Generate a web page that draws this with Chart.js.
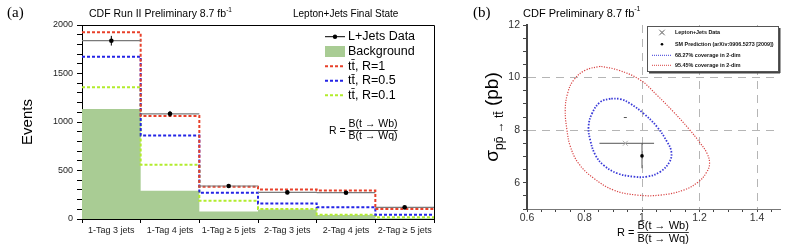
<!DOCTYPE html>
<html>
<head>
<meta charset="utf-8">
<script src="https://cdn.jsdelivr.net/npm/chart.js@4.4.0/dist/chart.umd.min.js"></script>
<style>
  html, body { margin: 0; padding: 0; background: #fff; }
  #wrap { position: relative; width: 810px; height: 251px; overflow: hidden; }
  canvas { position: absolute; top: 0; }
  #ca { left: 0; }
  #cb { left: 470px; }
</style>
</head>
<body>
<div id="wrap">
  <canvas id="ca" width="470" height="251"></canvas>
  <canvas id="cb" width="340" height="251"></canvas>
</div>
<script>
const FONT = "'Liberation Sans', Arial, Helvetica, sans-serif";
const SERIF = "'Liberation Serif', 'Times New Roman', serif";

// ---- panel (a): events per jet / tag category
const categories = ['1-Tag 3 jets', '1-Tag 4 jets', '1-Tag \u2265 5 jets', '2-Tag 3 jets', '2-Tag 4 jets', '2-Tag \u2265 5 jets'];
const dataEvents = [1838, 1084, 340, 274, 271, 120];
const dataErr = [50, 30, 18, 17, 17, 11];
const background = [1135, 291, 78, 98, 40, 8];
const ttR1 = [1924, 1063, 332, 305, 294, 103];
const ttR05 = [1673, 860, 270, 161, 120, 44];
const ttR01 = [1358, 559, 188, 104, 45, 17];
const yTicksA = [0, 500, 1000, 1500, 2000];

// ---- panel (b): sigma vs R
const measR = 0.942, measSigma = 7.50, measRErr = [0.09, 0.10];
const strayMark = [0.942, 8.48];
const smR = 1.0, smSigma = 7.02, smSigmaErr = [0.47, 0.48];
const contour68 = [[0.890, 9.20], [0.855, 9.07], [0.826, 8.63], [0.814, 8.13], [0.820, 7.62], [0.838, 7.05],
  [0.866, 6.67], [0.913, 6.36], [0.971, 6.23], [1.017, 6.23], [1.064, 6.42], [1.096, 6.80], [1.102, 7.18],
  [1.087, 7.56], [1.052, 8.13], [1.006, 8.63], [0.959, 9.01], [0.925, 9.18]];
const contour95 = [[0.855, 10.43], [0.803, 10.28], [0.762, 9.90], [0.741, 9.39], [0.733, 8.76], [0.739, 8.00],
  [0.751, 7.37], [0.779, 6.74], [0.832, 6.17], [0.901, 5.72], [0.983, 5.53], [1.064, 5.53], [1.145, 5.72],
  [1.197, 6.04], [1.226, 6.42], [1.235, 6.74], [1.226, 7.12], [1.203, 7.50], [1.162, 8.06], [1.110, 8.69],
  [1.052, 9.33], [0.995, 9.90], [0.919, 10.28]];
const xTicksB = [0.6, 0.8, 1, 1.2, 1.4];
const yTicksB = [6, 8, 10, 12];
const xGridB = [1, 1.2, 1.4];
const yGridB = [8, 10];

Chart.defaults.font.family = FONT;
Chart.defaults.color = '#222';
Chart.defaults.animation = false;

const near = (list, v) => list.find(t => Math.abs(t - v) < 1e-6);
const stepPts = vals => vals.map((v, i) => ({x: i, y: v})).concat([{x: vals.length, y: vals[vals.length - 1]}]);
const binPts = vals => vals.flatMap((v, i) => [{x: i, y: v}, {x: i + 1, y: v}, {x: i + 1, y: null}]);
const loop = pts => pts.concat([pts[0]]).map(([x, y]) => ({x, y}));

function txt(ctx, s, x, y, size, opt = {}) {
  ctx.font = `${opt.bold ? 'bold ' : ''}${size}px ${opt.family || FONT}`;
  ctx.fillStyle = opt.color || '#000';
  ctx.textAlign = opt.align || 'left';
  ctx.textBaseline = 'middle';
  ctx.fillText(s, x, y);
  return ctx.measureText(s).width;
}

function ratioFormula(ctx, x, y, size) {
  const num = 'B(t \u2192 Wb)', den = 'B(t \u2192 Wq)';
  const wl = txt(ctx, 'R = ', x, y + 1, size);
  ctx.font = `${size}px ${FONT}`;
  const w = Math.max(ctx.measureText(num).width, ctx.measureText(den).width);
  const fx = x + wl;
  txt(ctx, num, fx + w / 2, y - size * 0.55, size, {align: 'center'});
  txt(ctx, den, fx + w / 2, y + size * 0.6, size, {align: 'center'});
  ctx.strokeStyle = '#000'; ctx.lineWidth = 0.8;
  ctx.beginPath(); ctx.moveTo(fx, y + 0.5); ctx.lineTo(fx + w, y + 0.5); ctx.stroke();
}

const errorBars = {
  id: 'errorBars',
  beforeDatasetDraw(chart, args) {
    const ds = chart.data.datasets[args.index];
    if (!ds.errBars) return;
    const {ctx, scales: {x, y}} = chart;
    ctx.save();
    ctx.strokeStyle = ds.errColor || '#000';
    ctx.lineWidth = 1;
    ds.data.forEach((p, i) => {
      const e = ds.errBars[i];
      const px = x.getPixelForValue(p.x), py = y.getPixelForValue(p.y);
      ctx.beginPath();
      if (e.yl || e.yh) {
        ctx.moveTo(px, y.getPixelForValue(p.y - (e.yl || 0)));
        ctx.lineTo(px, y.getPixelForValue(p.y + (e.yh || 0)));
      }
      if (e.xl || e.xh) {
        ctx.moveTo(x.getPixelForValue(p.x - (e.xl || 0)), py);
        ctx.lineTo(x.getPixelForValue(p.x + (e.xh || 0)), py);
      }
      ctx.stroke();
    });
    ctx.restore();
  }
};

// ---------- panel (a)
const decorA = {
  id: 'decorA',
  afterDraw(chart) {
    const {ctx, chartArea: a} = chart;
    ctx.save();
    ctx.strokeStyle = '#000'; ctx.lineWidth = 1;
    ctx.beginPath();
    ctx.moveTo(a.left, a.top + 0.5); ctx.lineTo(a.right + 0.5, a.top + 0.5); ctx.lineTo(a.right + 0.5, a.bottom);
    ctx.stroke();

    txt(ctx, '(a)', 7, 13.5, 15, {family: SERIF});
    const w = txt(ctx, 'CDF Run II Preliminary 8.7 fb', 89, 14, 10.5);
    txt(ctx, '-1', 89 + w, 10, 6.5);
    txt(ctx, 'Lepton+Jets Final State', 293, 14, 10);

    // legend
    const lx = 325, tx = 348;
    const rows = [36.7, 51.5, 66.3, 80.8, 95.3];
    ctx.strokeStyle = '#000'; ctx.lineWidth = 1;
    ctx.beginPath(); ctx.moveTo(lx, rows[0]); ctx.lineTo(lx + 20, rows[0]); ctx.stroke();
    ctx.fillStyle = '#000'; ctx.beginPath(); ctx.arc(lx + 10, rows[0], 2.2, 0, Math.PI * 2); ctx.fill();
    txt(ctx, 'L+Jets Data', tx, rows[0], 12.5);
    ctx.fillStyle = '#a9cc94'; ctx.fillRect(lx, rows[1] - 5.5, 20, 11);
    txt(ctx, 'Background', tx, rows[1], 12.5);
    const lines = [['#e8402a', 't\u0074\u0304, R=1'], ['#2424e6', 't\u0074\u0304, R=0.5'], ['#b2ec2c', 't\u0074\u0304, R=0.1']];
    lines.forEach(([c, label], k) => {
      const y = rows[2 + k];
      ctx.strokeStyle = c; ctx.lineWidth = 2; ctx.setLineDash([3, 2]);
      ctx.beginPath(); ctx.moveTo(lx, y); ctx.lineTo(lx + 20, y); ctx.stroke();
      ctx.setLineDash([]);
      txt(ctx, label, tx, y, 12.5);
    });
    ratioFormula(ctx, 329, 130, 10.5);
    ctx.restore();
  }
};

new Chart(document.getElementById('ca'), {
  type: 'line',
  data: {
    datasets: [
      {
        label: 'L+Jets Data', data: dataEvents.map((v, i) => ({x: i + 0.5, y: v})),
        errBars: dataErr.map(e => ({yl: e, yh: e})), errColor: '#000',
        showLine: false, pointRadius: 2.3, pointBackgroundColor: '#000', pointBorderWidth: 0,
      },
      {
        label: 'data bins', data: binPts(dataEvents), spanGaps: false,
        borderColor: '#7a7a7a', borderWidth: 1.2, pointRadius: 0,
      },
      {
        label: 'R=1', data: stepPts(ttR1), stepped: true,
        borderColor: '#e8402a', borderWidth: 2, borderDash: [3, 2], pointRadius: 0,
      },
      {
        label: 'R=0.5', data: stepPts(ttR05), stepped: true,
        borderColor: '#2424e6', borderWidth: 2, borderDash: [3, 2], pointRadius: 0,
      },
      {
        label: 'R=0.1', data: stepPts(ttR01), stepped: true,
        borderColor: '#b2ec2c', borderWidth: 2, borderDash: [3, 2], pointRadius: 0,
      },
      {
        label: 'Background', data: stepPts(background), stepped: true,
        borderWidth: 0, borderColor: 'rgba(0,0,0,0)', backgroundColor: '#a9cc94', fill: 'origin', pointRadius: 0,
      },
    ],
  },
  options: {
    responsive: false,
    events: [],
    layout: {padding: {top: 25, right: 36, left: 0, bottom: 0}},
    plugins: {legend: {display: false}, tooltip: {enabled: false}},
    scales: {
      x: {
        type: 'linear', min: 0, max: categories.length,
        afterBuildTicks: s => { s.ticks = Array.from({length: categories.length * 2 + 1}, (_, i) => ({value: i / 2})); },
        afterFit: s => { s.height = 32; },
        ticks: {
          autoSkip: false, maxRotation: 0, minRotation: 0, padding: 2, color: '#222', font: {size: 9},
          callback: v => Number.isInteger(v) ? '' : categories[Math.floor(v)],
        },
        grid: {
          drawOnChartArea: false, tickLength: 4,
          tickColor: c => Number.isInteger(c.tick.value) ? '#000' : 'rgba(0,0,0,0)',
        },
        border: {color: '#000', width: 1},
      },
      y: {
        min: 0, max: 2000,
        afterFit: s => { s.width = 82; },
        ticks: {
          stepSize: 100, autoSkip: false, padding: 4, color: '#222', font: {size: 9},
          callback: v => yTicksA.includes(v) ? v : '',
        },
        grid: {drawOnChartArea: false, tickLength: 5, tickColor: '#000'},
        border: {color: '#000', width: 1},
        title: {display: true, text: 'Events', color: '#000', font: {size: 15}, padding: {top: 19, bottom: 0}},
      },
    },
  },
  plugins: [errorBars, decorA],
});

// ---------- panel (b)
const decorB = {
  id: 'decorB',
  afterDraw(chart) {
    const {ctx, chartArea: a} = chart;
    ctx.save();
    txt(ctx, '(b)', 3, 13.5, 15, {family: SERIF});
    const w = txt(ctx, 'CDF Preliminary 8.7 fb', 53, 14, 11);
    txt(ctx, '-1', 53 + w, 9.5, 7);

    // legend box
    const bx = 177, by = 26, bw = 131, bh = 45;
    ctx.fillStyle = '#fff'; ctx.fillRect(bx, by, bw, bh);
    ctx.strokeStyle = '#555'; ctx.lineWidth = 1; ctx.strokeRect(bx + 0.5, by + 0.5, bw, bh);
    ctx.fillStyle = '#444'; ctx.fillRect(bx + 2, by + bh + 1, bw, 1.5); ctx.fillRect(bx + bw + 1, by + 2, 1.5, bh);
    const rows = [32.5, 44.2, 55.3, 65.3], mx = 192, tx = 205;
    Chart.helpers.drawPoint(ctx, {pointStyle: 'crossRot', radius: 3, borderWidth: 0.8}, mx, rows[0]);
    ctx.strokeStyle = '#999'; ctx.lineWidth = 0.8;
    ctx.beginPath(); ctx.moveTo(mx - 3, rows[0] - 3); ctx.lineTo(mx + 3, rows[0] + 3);
    ctx.moveTo(mx + 3, rows[0] - 3); ctx.lineTo(mx - 3, rows[0] + 3); ctx.stroke();
    ctx.fillStyle = '#000'; ctx.beginPath(); ctx.arc(mx, rows[1], 1.3, 0, Math.PI * 2); ctx.fill();
    [['#3a3ad8', rows[2]], ['#d84444', rows[3]]].forEach(([c, y]) => {
      ctx.strokeStyle = c; ctx.lineWidth = 1; ctx.setLineDash([1, 1]);
      ctx.beginPath(); ctx.moveTo(182, y); ctx.lineTo(202, y); ctx.stroke();
      ctx.setLineDash([]);
    });
    txt(ctx, 'Lepton+Jets Data', tx, rows[0], 5.4, {bold: true, color: '#111'});
    txt(ctx, 'SM Prediction (arXiv:0906.5273 [2009])', tx, rows[1], 5.4, {bold: true, color: '#111'});
    txt(ctx, '68.27% coverage in 2-dim', tx, rows[2], 5.4, {bold: true, color: '#111'});
    txt(ctx, '95.45% coverage in 2-dim', tx, rows[3], 5.4, {bold: true, color: '#111'});

    // y title: sigma_{p pbar -> t tbar} (pb), rotated
    ctx.save();
    const big = 19, small = 12;
    ctx.translate(28, (a.top + a.bottom) / 2);
    ctx.rotate(-Math.PI / 2);
    ctx.font = `${big}px ${FONT}`;
    const s1 = 'σ', s3 = ' (pb)', s2 = 'p\u0070\u0304 \u2192 t\u0074\u0304';
    const w1 = ctx.measureText(s1).width, w3 = ctx.measureText(s3).width;
    ctx.font = `${small}px ${FONT}`;
    const w2 = ctx.measureText(s2).width;
    let x0 = -(w1 + w2 + w3) / 2;
    ctx.fillStyle = '#000'; ctx.textAlign = 'left'; ctx.textBaseline = 'alphabetic';
    ctx.font = `${big}px ${FONT}`; ctx.fillText(s1, x0, 0); x0 += w1;
    ctx.font = `${small}px ${FONT}`; ctx.fillText(s2, x0, 5); x0 += w2;
    ctx.font = `${big}px ${FONT}`; ctx.fillText(s3, x0, 0);
    ctx.restore();

    ratioFormula(ctx, 147, 232, 11);
    ctx.restore();
  }
};

new Chart(document.getElementById('cb'), {
  type: 'scatter',
  data: {
    datasets: [
      {
        label: 'SM Prediction', data: [{x: smR, y: smSigma}],
        errBars: [{yl: smSigmaErr[0], yh: smSigmaErr[1]}], errColor: '#555',
        pointRadius: 1.8, pointBackgroundColor: '#000', pointBorderWidth: 0,
      },
      {
        label: 'Lepton+Jets Data', data: [{x: measR, y: measSigma}],
        errBars: [{xl: measRErr[0], xh: measRErr[1]}], errColor: '#555',
        pointStyle: 'crossRot', pointRadius: 3.5, pointBorderColor: '#aaa', pointBorderWidth: 1,
      },
      {
        label: 'mark', data: [{x: strayMark[0], y: strayMark[1]}],
        pointStyle: 'line', pointRadius: 1.5, pointBorderColor: '#555', pointBorderWidth: 1,
      },
      {
        label: '68.27%', data: loop(contour68), showLine: true, tension: 0.4,
        borderColor: '#3a3ad8', borderWidth: 1.8, borderDash: [1.5, 1.5], pointRadius: 0,
      },
      {
        label: '95.45%', data: loop(contour95), showLine: true, tension: 0.4,
        borderColor: '#d84444', borderWidth: 1.2, borderDash: [1.2, 1.4], pointRadius: 0,
      },
    ],
  },
  options: {
    responsive: false,
    events: [],
    layout: {padding: {top: 25, right: 30, left: 0, bottom: 0}},
    plugins: {legend: {display: false}, tooltip: {enabled: false}},
    scales: {
      x: {
        type: 'linear', min: 0.6, max: 1.48,
        afterFit: s => { s.height = 42; },
        ticks: {
          stepSize: 0.05, includeBounds: false, autoSkip: false, maxRotation: 0, minRotation: 0,
          padding: 0, color: '#333', font: {size: 10.5},
          callback: v => { const m = near(xTicksB, v); return m === undefined ? '' : String(m); },
        },
        grid: {
          color: c => near(xGridB, c.tick ? c.tick.value : -1) !== undefined ? '#b5b5b5' : 'rgba(0,0,0,0)',
          lineWidth: 1, tickLength: 3, tickColor: '#444',
        },
        border: {color: '#777', width: 1, dash: [8, 6]},
      },
      y: {
        min: 5, max: 12,
        afterFit: s => { s.width = 57; },
        ticks: {
          stepSize: 0.5, autoSkip: false, padding: 3, color: '#333', font: {size: 10.5},
          callback: v => { const m = near(yTicksB, v); return m === undefined ? '' : String(m); },
        },
        grid: {
          color: c => near(yGridB, c.tick ? c.tick.value : -1) !== undefined ? '#b5b5b5' : 'rgba(0,0,0,0)',
          lineWidth: 1, tickLength: 4, tickColor: '#444',
        },
        border: {color: '#444', width: 2, dash: [8, 6]},
      },
    },
  },
  plugins: [errorBars, decorB],
});
</script>
</body>
</html>
